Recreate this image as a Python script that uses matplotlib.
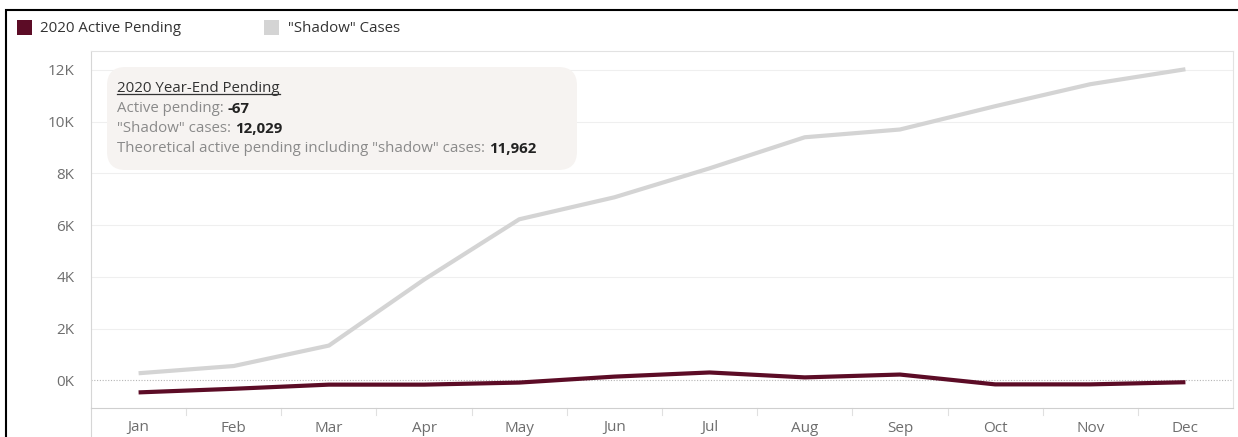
import numpy as np
import matplotlib.pyplot as plt
from matplotlib.patches import FancyBboxPatch, Rectangle
from matplotlib.lines import Line2D

plt.rcParams['font.family'] = ['Open Sans', 'DejaVu Sans']

# data
months = ['Jan', 'Feb', 'Mar', 'Apr', 'May', 'Jun', 'Jul', 'Aug', 'Sep', 'Oct', 'Nov', 'Dec']
shadow = [280, 560, 1350, 3900, 6230, 7080, 8200, 9400, 9700, 10600, 11450, 12029]
active = [-460, -320, -160, -160, -80, 150, 310, 120, 230, -150, -150, -67]
yticks = [0, 2000, 4000, 6000, 8000, 10000, 12000]
ytick_labels = ['0K', '2K', '4K', '6K', '8K', '10K', '12K']

dark = '#5c0c26'
light = '#d4d4d4'
tick_col = '#6e6e6e'

W, H = 1238, 437
fig = plt.figure(figsize=(W / 100, H / 100), dpi=100)

# outer black frame
fig.patches.append(Rectangle((6 / W, -0.1), 1.2, 1 - 10 / H + 0.1, transform=fig.transFigure,
                             fill=False, edgecolor='black', linewidth=1.5))

ax = fig.add_axes([91 / W, 1 - 408 / H, (1233 - 91) / W, (408 - 51) / H])
x = np.arange(len(months))
ax.plot(x, shadow, color=light, linewidth=3, solid_capstyle='butt', zorder=3)
ax.plot(x, active, color=dark, linewidth=3, solid_capstyle='butt', zorder=4)

ax.set_xlim(-0.5, 11.5)
ax.set_ylim(-1063, 12734)
ax.set_yticks(yticks)
ax.set_yticklabels(ytick_labels)
ax.set_xticks(x)
ax.set_xticklabels(months)
ax.tick_params(axis='both', length=0, labelsize=11, labelcolor=tick_col)
ax.tick_params(axis='x', pad=9)
ax.tick_params(axis='y', pad=12)

for yv in yticks[1:]:
    ax.axhline(yv, color='#efefef', linewidth=0.8, zorder=1)
ax.axhline(0, color='#b5b5b5', linewidth=0.8, linestyle=(0, (1, 1.5)), zorder=2)

for s in ['top', 'right']:
    ax.spines[s].set_color('#e2e2e2')
    ax.spines[s].set_linewidth(0.8)
ax.spines['left'].set_color('#d6d6d6')
ax.spines['bottom'].set_color('#cfcfcf')
ax.spines['left'].set_linewidth(0.8)
ax.spines['bottom'].set_linewidth(0.8)

# month separator ticks and left line below the axis
for b in np.arange(0.5, 11.5, 1.0):
    ax.add_line(Line2D([b, b], [0, -0.02], transform=ax.get_xaxis_transform(),
                       color='#e0e0e0', linewidth=0.8, clip_on=False))
ax.add_line(Line2D([-0.5, -0.5], [0, -0.2], transform=ax.get_xaxis_transform(),
                   color='#d6d6d6', linewidth=0.8, clip_on=False))

# legend
fig.patches.append(Rectangle((17 / W, 1 - 35 / H), 15 / W, 15 / H, transform=fig.transFigure,
                             facecolor=dark, edgecolor='none'))
fig.text(40 / W, 1 - 28 / H, '2020 Active Pending', fontsize=10.8, color='#333333', va='center')
fig.patches.append(Rectangle((264 / W, 1 - 35 / H), 15 / W, 15 / H, transform=fig.transFigure,
                             facecolor=light, edgecolor='none'))
fig.text(288 / W, 1 - 28 / H, '"Shadow" Cases', fontsize=10.8, color='#333333', va='center')

# tooltip-like annotation box
fig.patches.append(FancyBboxPatch((107 / W, 1 - 170 / H), (577 - 107) / W, (170 - 67) / H,
                                  boxstyle='round,pad=0,rounding_size=0.015', transform=fig.transFigure,
                                  facecolor='#f6f3f1', edgecolor='none', zorder=5,
                                  mutation_aspect=W / H))

fig.canvas.draw()
renderer = fig.canvas.get_renderer()

tx = 117 / W
title = fig.text(tx, 1 - 88 / H, '2020 Year-End Pending', fontsize=10.8, color='#333333',
                 va='center', zorder=6)
bb = title.get_window_extent(renderer).transformed(fig.transFigure.inverted())
fig.add_artist(Line2D([bb.x0, bb.x1], [bb.y0 + 1.5 / H, bb.y0 + 1.5 / H], transform=fig.transFigure,
                      color='#333333', linewidth=0.9, zorder=6))

rows = [('Active pending: ', '-67', 109),
        ('"Shadow" cases: ', '12,029', 129),
        ('Theoretical active pending including "shadow" cases: ', '11,962', 149)]
for label, val, yy in rows:
    t = fig.text(tx, 1 - yy / H, label, fontsize=10.8, color='#8a8a8a', va='center', zorder=6)
    bb = t.get_window_extent(renderer).transformed(fig.transFigure.inverted())
    fig.text(bb.x1, 1 - yy / H, val, fontsize=10.8, color='#222222', fontweight='bold',
             va='center', zorder=6)

fig.savefig('out.png', dpi=100, facecolor='white')
